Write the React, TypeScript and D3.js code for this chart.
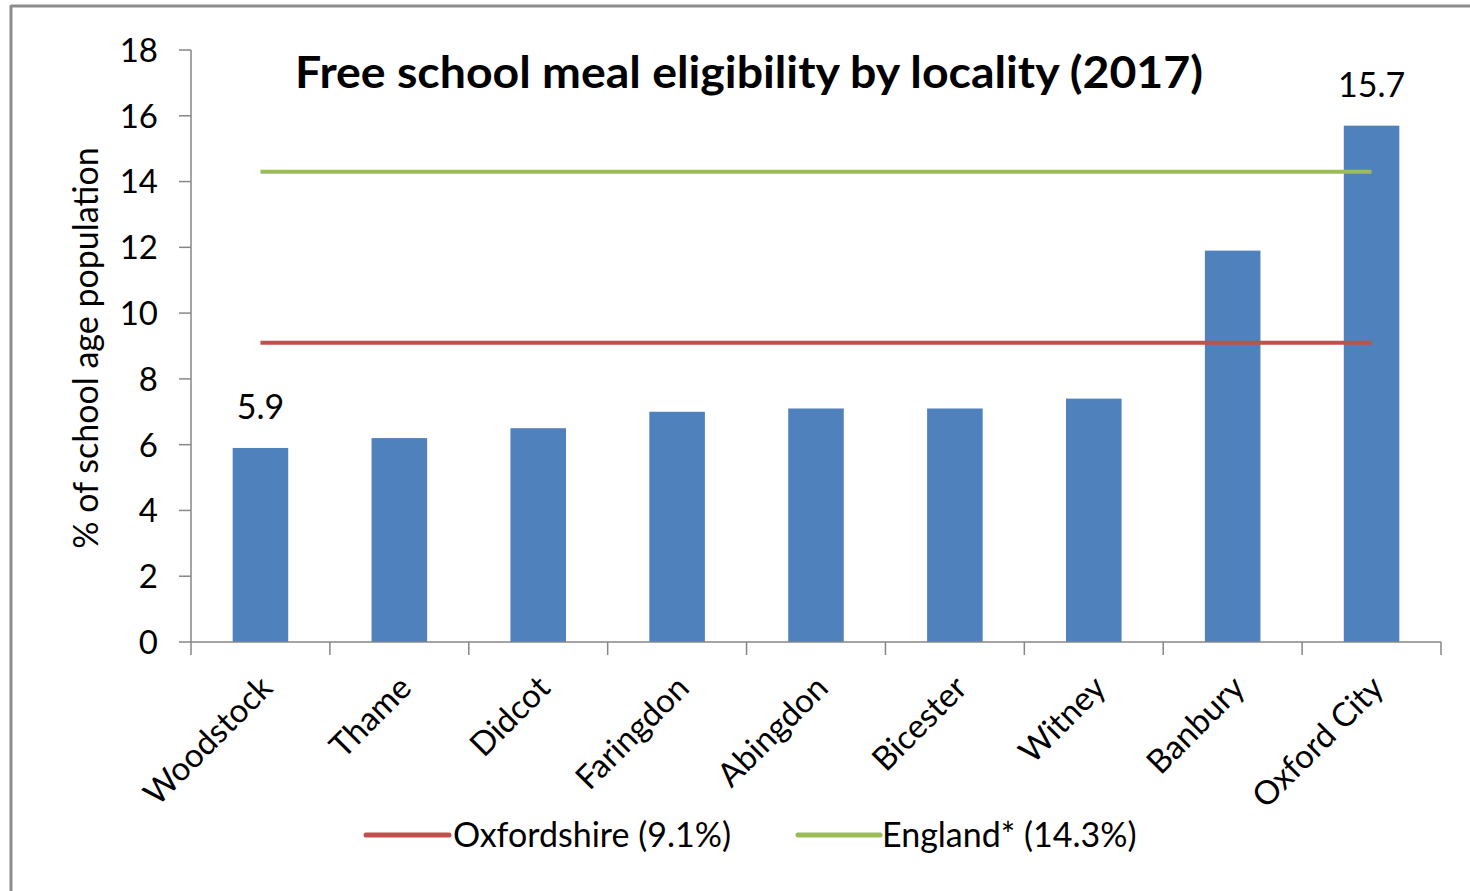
import * as d3 from "d3";

const localities = [
  "Woodstock",
  "Thame",
  "Didcot",
  "Faringdon",
  "Abingdon",
  "Bicester",
  "Witney",
  "Banbury",
  "Oxford City",
];
const fsmPercent = [5.9, 6.2, 6.5, 7.0, 7.1, 7.1, 7.4, 11.9, 15.7];
const yTicks = [0, 2, 4, 6, 8, 10, 12, 14, 16, 18];
const labelled = ["Woodstock", "Oxford City"];

const oxfordshire = 9.1;
const england = 14.3;
const legendLabels = ["Oxfordshire (9.1%)", "England* (14.3%)"];

const W = 1470;
const H = 891;
const FONT = "Lato, 'Open Sans', sans-serif";
const AXIS = "#868686";
const BAR = "#4F81BD";
const RED = "#C0504D";
const GREEN = "#9BBB59";

export default function App() {
  const x = d3
    .scaleBand<string>()
    .domain(localities)
    .range([191, 1441])
    .paddingInner(0.6)
    .paddingOuter(0.3);
  const step = x.step();
  const y = d3.scaleLinear().domain([0, 18]).range([642, 50]);

  const first = localities[0];
  const last = localities[localities.length - 1];
  const lineX0 = (x(first) ?? 0) + x.bandwidth() / 2;
  const lineX1 = (x(last) ?? 0) + x.bandwidth() / 2;

  // category boundaries for tick marks
  const boundaries = d3.range(localities.length + 1).map((i) => 191 + i * step);

  return (
    <svg
      width={W}
      height={H}
      style={{ position: "absolute", left: 0, top: 0, background: "#fff" }}
      fontFamily={FONT}
    >
      <rect x={0} y={0} width={W} height={H} fill="#fff" />
      {/* frame (top and left edges visible) */}
      <line x1={11} x2={W} y1={6} y2={6} stroke="#8c8c8c" strokeWidth={3} />
      <line x1={11} x2={11} y1={5} y2={H} stroke="#8c8c8c" strokeWidth={3} />

      {/* title */}
      <text
        x={295}
        y={88}
        fontSize={44}
        fontWeight={700}
        fill="#000"
        textLength={908}
        lengthAdjust="spacingAndGlyphs"
      >
        Free school meal eligibility by locality (2017)
      </text>

      {/* y axis */}
      <line x1={191} x2={191} y1={y(18)} y2={y(0)} stroke={AXIS} strokeWidth={1.5} />
      {yTicks.map((t) => (
        <g key={t}>
          <line x1={179} x2={191} y1={y(t)} y2={y(t)} stroke={AXIS} strokeWidth={1.5} />
          <text x={158} y={y(t)} dy="0.36em" textAnchor="end" fontSize={33} fill="#000">
            {t}
          </text>
        </g>
      ))}
      <text
        transform={`translate(98,${(y(0) + y(18)) / 2 + 2}) rotate(-90)`}
        textAnchor="middle"
        fontSize={34}
        fill="#000"
      >
        % of school age population
      </text>

      {/* bars */}
      {localities.map((c, i) => (
        <rect
          key={c}
          x={x(c)}
          y={y(fsmPercent[i])}
          width={x.bandwidth()}
          height={y(0) - y(fsmPercent[i])}
          fill={BAR}
        />
      ))}

      {/* data labels */}
      {localities.map((c, i) =>
        labelled.includes(c) ? (
          <text
            key={c}
            x={(x(c) ?? 0) + x.bandwidth() / 2}
            y={y(fsmPercent[i]) - 29}
            textAnchor="middle"
            fontSize={34}
            fill="#000"
          >
            {fsmPercent[i].toFixed(1)}
          </text>
        ) : null
      )}

      {/* reference lines */}
      <line x1={lineX0} x2={lineX1} y1={y(england)} y2={y(england)} stroke={GREEN} strokeWidth={4} />
      <line
        x1={lineX0}
        x2={lineX1}
        y1={y(oxfordshire)}
        y2={y(oxfordshire)}
        stroke={RED}
        strokeWidth={4}
      />

      {/* x axis */}
      <line x1={191} x2={1441} y1={y(0)} y2={y(0)} stroke={AXIS} strokeWidth={1.5} />
      {boundaries.map((bx, i) => (
        <line key={i} x1={bx} x2={bx} y1={y(0)} y2={y(0) + 13} stroke={AXIS} strokeWidth={1.5} />
      ))}
      {localities.map((c) => {
        const cx = (x(c) ?? 0) + x.bandwidth() / 2 + 14;
        return (
          <text
            key={c}
            transform={`translate(${cx},${y(0) + 48}) rotate(-45)`}
            textAnchor="end"
            fontSize={33}
            fill="#000"
          >
            {c}
          </text>
        );
      })}

      {/* legend */}
      <line x1={366} x2={449} y1={835} y2={835} stroke={RED} strokeWidth={5} strokeLinecap="round" />
      <text x={453} y={847} fontSize={34} fill="#000">
        {legendLabels[0]}
      </text>
      <line x1={798} x2={880} y1={835} y2={835} stroke={GREEN} strokeWidth={5} strokeLinecap="round" />
      <text x={882} y={847} fontSize={34} fill="#000">
        {legendLabels[1]}
      </text>
    </svg>
  );
}
